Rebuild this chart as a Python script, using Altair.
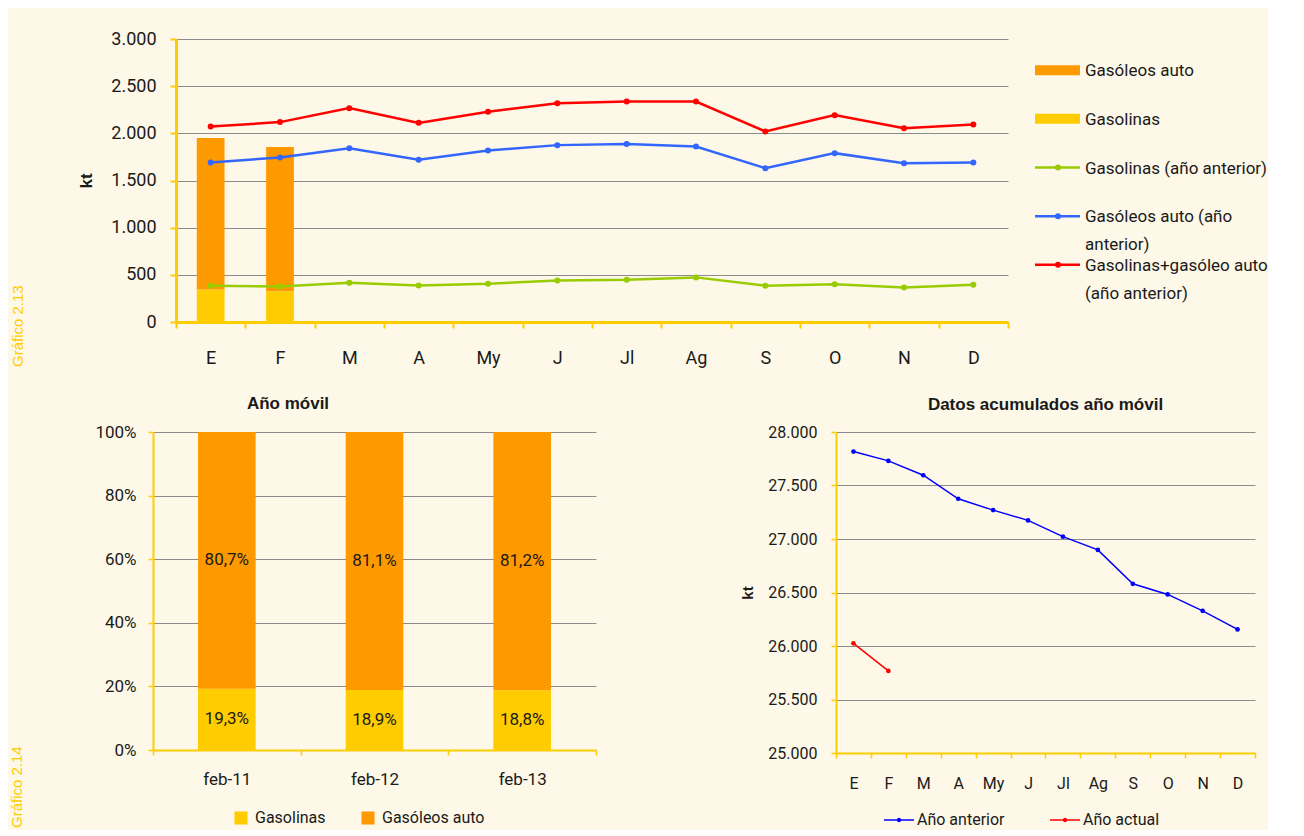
import altair as alt
import pandas as pd

# ---------------- data ----------------
months = ["E", "F", "M", "A", "My", "J", "Jl", "Ag", "S", "O", "N", "D"]

# top chart: previous-year monthly consumption (kt)
gasolinas_ant = [385, 377, 416, 388, 406, 441, 448, 473, 385, 399, 367, 395]
gasoleos_ant = [1691, 1744, 1843, 1719, 1818, 1875, 1886, 1860, 1631, 1790, 1684, 1691]
total_ant = [2072, 2119, 2267, 2111, 2228, 2320, 2337, 2337, 2019, 2193, 2055, 2093]
# current year bars (kt)
meses_act = ["E", "F"]
gasolinas_act = [345, 325]
gasoleos_act = [1605, 1530]

# bottom-left: share (%)
periodos = ["feb-11", "feb-12", "feb-13"]
gasolinas_pct = [19.3, 18.9, 18.8]
gasoleos_pct = [80.7, 81.1, 81.2]

# bottom-right: rolling-year totals (kt)
acum_ant = [27817, 27730, 27596, 27376, 27270, 27174, 27022, 26898, 26581, 26482, 26329, 26155]
acum_act = [26025, 25767]

serie_bar = ["Gasolinas", "Gasóleos auto"]
serie_lin = ["Gasolinas (año anterior)", "Gasóleos auto (año anterior)",
             "Gasolinas+gasóleo auto (año anterior)"]
leg_series = ["Gasóleos auto", "Gasolinas", "Gasolinas (año anterior)",
              "Gasóleos auto (año anterior)", "Gasolinas+gasóleo auto (año anterior)"]
leg_text = ["Gasóleos auto", "Gasolinas", "Gasolinas (año anterior)",
            "Gasóleos auto (año\nanterior)", "Gasolinas+gasóleo auto\n(año anterior)"]
leg_kind = ["barra", "barra", "linea", "linea", "linea"]

# ---------------- styles ----------------
CREAM = "#FDF8E7"
YEL = "#FFCC00"
ORANGE = "#FF9900"
GREEN = "#99CC00"
BLUE = "#3366FF"
RED = "#FF0000"
GRID = "#8C8C8C"
TXT = "#1A1A1A"
FONT = "Roboto"
BOLD = "Liberation Sans"
THOUS = "replace(format(datum.value, ','), ',', '.')"

# ---------------- tables ----------------
bar_rows = []
for i, m in enumerate(meses_act):
    bar_rows.append({"mes": m, "serie": "Gasolinas", "valor": gasolinas_act[i], "orden": 0})
    bar_rows.append({"mes": m, "serie": "Gasóleos auto", "valor": gasoleos_act[i], "orden": 1})
bar_df = pd.DataFrame(bar_rows)

line_rows = []
for name, vals in zip(serie_lin, [gasolinas_ant, gasoleos_ant, total_ant]):
    for m, v in zip(months, vals):
        line_rows.append({"mes": m, "serie": name, "valor": v})
line_df = pd.DataFrame(line_rows)

leg_df = pd.DataFrame({"serie": leg_series, "texto": leg_text, "tipo": leg_kind})

bl_rows = []
for i, p in enumerate(periodos):
    bl_rows.append({"periodo": p, "serie": "Gasolinas", "pct": gasolinas_pct[i], "orden": 0})
    bl_rows.append({"periodo": p, "serie": "Gasóleos auto", "pct": gasoleos_pct[i], "orden": 1})
bl_df = pd.DataFrame(bl_rows)

br_rows = [{"mes": m, "serie": "Año anterior", "kt": v} for m, v in zip(months, acum_ant)]
br_rows += [{"mes": m, "serie": "Año actual", "kt": v} for m, v in zip(months, acum_act)]
br_df = pd.DataFrame(br_rows)

# ---------------- top chart ----------------
x_top = alt.X("mes:N", sort=months, scale=alt.Scale(paddingInner=0, paddingOuter=0),
              axis=alt.Axis(title=None, labelAngle=0, tickBand="extent", grid=False,
                            domainColor=YEL, domainWidth=3, tickColor=YEL, tickWidth=2,
                            tickSize=6, labelPadding=21, labelFont=FONT, labelFontSize=18,
                            labelColor=TXT))
y_top = alt.Y("valor:Q", scale=alt.Scale(domain=[0, 3000]),
              axis=alt.Axis(title="kt", values=[0, 500, 1000, 1500, 2000, 2500, 3000],
                            labelExpr=THOUS, gridColor=GRID, gridWidth=1,
                            domainColor=YEL, domainWidth=3, tickColor=YEL, tickWidth=2,
                            tickSize=6, labelPadding=14, labelFont=FONT, labelFontSize=18,
                            labelColor=TXT, titleFont=BOLD, titleFontSize=17,
                            titleFontWeight="bold", titleColor=TXT, titlePadding=15))

bars_top = alt.Chart(bar_df).mark_bar(width=alt.RelativeBandSize(0.4)).encode(
    x=x_top, y=y_top,
    color=alt.Color("serie:N", scale=alt.Scale(domain=serie_bar, range=[YEL, ORANGE]), legend=None),
    order=alt.Order("orden:Q"),
)
lines_top = alt.Chart(line_df).mark_line(
    strokeWidth=2.5, point=alt.OverlayMarkDef(filled=True, size=36)
).encode(
    x=x_top, y=y_top,
    color=alt.Color("serie:N", scale=alt.Scale(domain=serie_lin, range=[GREEN, BLUE, RED]), legend=None),
)
top = alt.layer(bars_top, lines_top).resolve_scale(color="independent").properties(width=832, height=283)

# custom legend panel for the top chart
y_leg = alt.Y("serie:N", scale=alt.Scale(type="point", domain=leg_series, padding=0.64), axis=None)
c_leg = alt.Color("serie:N", scale=alt.Scale(domain=leg_series, range=[ORANGE, YEL, GREEN, BLUE, RED]), legend=None)
leg_base = alt.Chart(leg_df)
leg_sw = leg_base.transform_filter("datum.tipo == 'barra'").mark_rule(strokeWidth=10, strokeCap="butt").encode(
    x=alt.value(0), x2=alt.value(45), y=y_leg, color=c_leg)
leg_ln = leg_base.transform_filter("datum.tipo == 'linea'").mark_rule(strokeWidth=2.5).encode(
    x=alt.value(0), x2=alt.value(45), y=y_leg, color=c_leg)
leg_pt = leg_base.transform_filter("datum.tipo == 'linea'").mark_point(filled=True, size=36, opacity=1).encode(
    x=alt.value(23), y=y_leg, color=c_leg)
leg_tx = leg_base.mark_text(align="left", baseline="alphabetic", dy=6, lineBreak="\n", lineHeight=28,
                            font=FONT, fontSize=17, color=TXT).encode(
    x=alt.value(50), y=y_leg, text="texto:N")
legend_panel = alt.layer(leg_sw, leg_ln, leg_pt, leg_tx).properties(width=230, height=257)

top_row = alt.hconcat(top, legend_panel, spacing=21,
                      title=alt.Title("Gráfico 2.13", orient="left", anchor="start", font=BOLD,
                                      fontSize=15, fontWeight="normal", color=YEL, offset=52)
                      ).resolve_scale(color="independent")

# ---------------- bottom-left ----------------
x_bl = alt.X("periodo:N", sort=periodos,
             scale=alt.Scale(paddingInner=0, paddingOuter=0, range=[-23, 420]),
             axis=alt.Axis(title=None, labelAngle=0, tickBand="extent", grid=False,
                           domainColor=YEL, domainWidth=2, tickColor=YEL, tickWidth=1.5,
                           tickSize=5, labelPadding=16, labelFont=FONT, labelFontSize=17,
                           labelColor=TXT))
bl_base = alt.Chart(bl_df).transform_stack(
    stack="pct", groupby=["periodo"], sort=[alt.SortField("orden")], as_=["y0", "y1"]
).transform_calculate(
    mid="(datum.y0 + datum.y1) / 2",
    etiqueta="replace(format(datum.pct, '.1f'), '.', ',') + '%'",
)
y_bl = alt.Y("y0:Q", scale=alt.Scale(domain=[0, 100]),
             axis=alt.Axis(title=None, values=[0, 20, 40, 60, 80, 100], labelExpr="datum.value + '%'",
                           gridColor=GRID, gridWidth=1, domainColor=YEL, domainWidth=2,
                           tickColor=YEL, tickWidth=1.5, tickSize=5, labelPadding=12,
                           labelFont=FONT, labelFontSize=17, labelColor=TXT, minExtent=60,
                           offset=23))
bl_bars = bl_base.mark_bar(width=alt.RelativeBandSize(0.39)).encode(
    x=x_bl, y=y_bl, y2="y1:Q",
    color=alt.Color("serie:N", scale=alt.Scale(domain=serie_bar, range=[YEL, ORANGE]),
                    legend=alt.Legend(title=None, orient="none", legendX=57, legendY=378,
                                      direction="horizontal", symbolType="square", symbolSize=170,
                                      symbolStrokeWidth=0, labelFont=FONT, labelFontSize=16,
                                      labelColor=TXT, labelOffset=6, columnPadding=34)),
)
bl_text = bl_base.mark_text(font=FONT, fontSize=17, color=TXT).encode(
    x=x_bl, y=alt.Y("mid:Q"), text="etiqueta:N")
bl = alt.layer(bl_bars, bl_text).properties(
    width=420, height=318,
    title=alt.Title("Año móvil", font=BOLD, fontSize=17, fontWeight="bold", color=TXT,
                    offset=10, dx=-98))

# ---------------- bottom-right ----------------
x_br = alt.X("mes:N", sort=months, scale=alt.Scale(paddingInner=0, paddingOuter=0),
             axis=alt.Axis(title=None, labelAngle=0, tickBand="extent", grid=False,
                           domainColor=YEL, domainWidth=2, tickColor=YEL, tickWidth=1.5,
                           tickSize=5, labelPadding=17, labelFont=FONT, labelFontSize=16,
                           labelColor=TXT))
y_br = alt.Y("kt:Q", scale=alt.Scale(domain=[25000, 28000]),
             axis=alt.Axis(title="kt", values=[25000, 25500, 26000, 26500, 27000, 27500, 28000],
                           labelExpr=THOUS, gridColor=GRID, gridWidth=1, domainColor=YEL,
                           domainWidth=2, tickColor=YEL, tickWidth=1.5, tickSize=5,
                           labelPadding=14, labelFont=FONT, labelFontSize=16, labelColor=TXT,
                           titleFont=BOLD, titleFontSize=15, titleFontWeight="bold",
                           titleColor=TXT, titlePadding=12))
LINE_SYM = "M-1,0L1,0M-0.1,0A0.1,0.1,0,1,0,0.1,0A0.1,0.1,0,1,0,-0.1,0Z"
br = alt.Chart(br_df).mark_line(
    strokeWidth=1.5, point=alt.OverlayMarkDef(filled=True, size=22)
).encode(
    x=x_br, y=y_br,
    color=alt.Color("serie:N", scale=alt.Scale(domain=["Año anterior", "Año actual"], range=["#0000FF", RED]),
                    legend=alt.Legend(title=None, orient="none", legendX=47, legendY=372,
                                      direction="horizontal", symbolType=LINE_SYM, symbolSize=900,
                                      symbolStrokeWidth=1.5, labelFont=FONT, labelFontSize=16,
                                      labelColor=TXT, labelOffset=2, columnPadding=42)),
).properties(
    width=419, height=321,
    title=alt.Title("Datos acumulados año móvil", font=BOLD, fontSize=17, fontWeight="bold",
                    color=TXT, offset=10))

bottom_row = alt.hconcat(bl, br, spacing=121,
                         title=alt.Title("Gráfico 2.14", orient="left", anchor="start", font=BOLD,
                                         fontSize=15, fontWeight="normal", color=YEL, offset=68)
                         ).resolve_scale(color="independent")

chart = alt.vconcat(top_row, bottom_row, spacing=28).resolve_scale(
    color="independent"
).properties(
    padding={"left": 2, "top": 22, "right": 0, "bottom": 2}
).configure(background=CREAM).configure_view(stroke=None)

chart.save("out.html", embed_options={"renderer": "svg", "actions": False})
